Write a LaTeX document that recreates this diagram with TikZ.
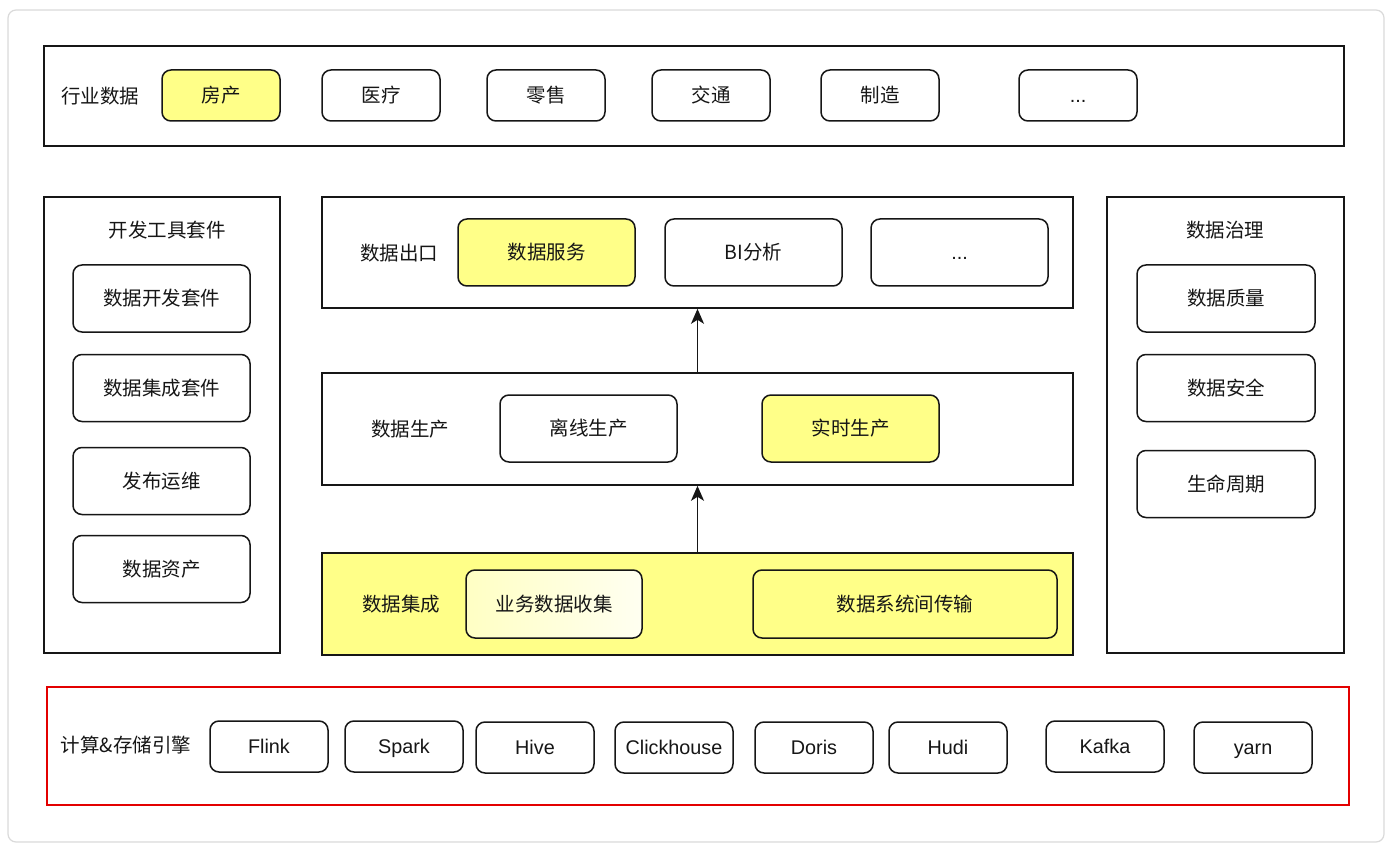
\documentclass[tikz,border=0pt]{standalone}
\usepackage{fontspec}
\setmainfont{Liberation Sans}
\newfontfamily\cjk{Noto Sans CJK SC}
\usetikzlibrary{arrows.meta}
\definecolor{yel}{HTML}{FFFF88}
\definecolor{ink}{HTML}{161616}
\definecolor{frame}{HTML}{DADADA}
\definecolor{redline}{HTML}{E30000}
\tikzset{
  container/.style={draw=ink, line width=1.6pt, inner sep=0pt},
  item/.style={draw=ink, line width=1.5pt, rounded corners=9pt, inner sep=0pt, fill=white, text=ink, font=\cjk\fontsize{19.5}{21}\selectfont},
  latin/.style={font=\fontsize{19.8}{22}\selectfont, text height=14.2pt, text depth=0pt},
  engine/.style={item, latin, minimum width=118pt, minimum height=51pt},
  sitem/.style={item, minimum width=118pt, minimum height=51pt},
  bitem/.style={item, minimum width=177pt, minimum height=67pt},
  lbl/.style={text=ink, inner sep=0pt, font=\cjk\fontsize{19.5}{21}\selectfont},
  arr/.style={draw=ink, line width=1.5pt, -{Stealth[length=15pt,width=13pt,inset=4pt]}}
}
\begin{document}
\begin{tikzpicture}[x=1pt,y=-1pt]
\useasboundingbox (0,0) rectangle (1392,850);
\node[draw=frame, fill=white, line width=1.2pt, rounded corners=8pt, minimum width=1376pt, minimum height=832pt, inner sep=0pt] (outer) at (696,426) {};

% top industry box
\node[container, minimum width=1300pt, minimum height=100pt] (ind) at (694,96) {};
\node[lbl] (indl) at (100,96) {行业数据};
\node[sitem, fill=yel] (fc) at (221,95.5) {房产};
\node[sitem] (yl) at (381,95.5) {医疗};
\node[sitem] (ls) at (546,95.5) {零售};
\node[sitem] (jt) at (711,95.5) {交通};
\node[sitem] (zz) at (880,95.5) {制造};
\node[sitem, latin] (more1) at (1078,95.5) {...};

% left tools box
\node[container, minimum width=236pt, minimum height=456pt] (tools) at (162,425) {};
\node[lbl] (toolsl) at (167,230) {开发工具套件};
\node[bitem] (dev) at (161.5,298.5) {数据开发套件};
\node[bitem] (intk) at (161.5,388) {数据集成套件};
\node[bitem] (ops) at (161.5,481) {发布运维};
\node[bitem] (asset) at (161.5,569) {数据资产};

% right governance box
\node[container, minimum width=237pt, minimum height=456pt] (gov) at (1225.5,425) {};
\node[lbl] (govl) at (1225,230) {数据治理};
\node[bitem, minimum width=178pt] (qual) at (1226,298.5) {数据质量};
\node[bitem, minimum width=178pt] (sec) at (1226,388) {数据安全};
\node[bitem, minimum width=178pt] (life) at (1226,484) {生命周期};

% data out
\node[container, minimum width=751pt, minimum height=111pt] (out) at (697.5,252.5) {};
\node[lbl] (outl) at (399,253) {数据出口};
\node[bitem, fill=yel] (svc) at (546.5,252.5) {数据服务};
\node[bitem] (bi) at (753.5,252.5) {BI分析};
\node[bitem, latin] (more2) at (959.5,252.5) {...};

% production
\node[container, minimum width=751pt, minimum height=112pt] (prod) at (697.5,429) {};
\node[lbl] (prodl) at (410,429) {数据生产};
\node[bitem] (off) at (588.5,428.5) {离线生产};
\node[bitem, fill=yel] (rt) at (850.5,428.5) {实时生产};

% integration
\node[container, fill=yel, minimum width=751pt, minimum height=102pt] (integ) at (697.5,604) {};
\node[lbl] (integl) at (401,604) {数据集成};
\node[bitem, minimum width=176pt, minimum height=68pt, left color=yel!50, right color=yel!12] (coll) at (554,604) {业务数据收集};
\node[bitem, fill=yel, minimum width=304pt, minimum height=68pt] (trans) at (905,604) {数据系统间传输};

\draw[arr] (prod.north) -- (out.south);
\draw[arr] (integ.north) -- (prod.south);

% engines
\node[draw=redline, line width=1.4pt, minimum width=1302pt, minimum height=118pt, inner sep=0pt] (eng) at (698,746) {};
\node[lbl] (engl) at (126,745) {计算\&存储引擎};
\node[engine] (flink) at (269,746.5) {Flink};
\node[engine] (spark) at (404,746.5) {Spark};
\node[engine] (hive) at (535,747.5) {Hive};
\node[engine] (ch) at (674,747.5) {Clickhouse};
\node[engine] (doris) at (814,747.5) {Doris};
\node[engine] (hudi) at (948,747.5) {Hudi};
\node[engine] (kafka) at (1105,746.5) {Kafka};
\node[engine] (yarn) at (1253,747.5) {yarn};
\end{tikzpicture}
\end{document}
